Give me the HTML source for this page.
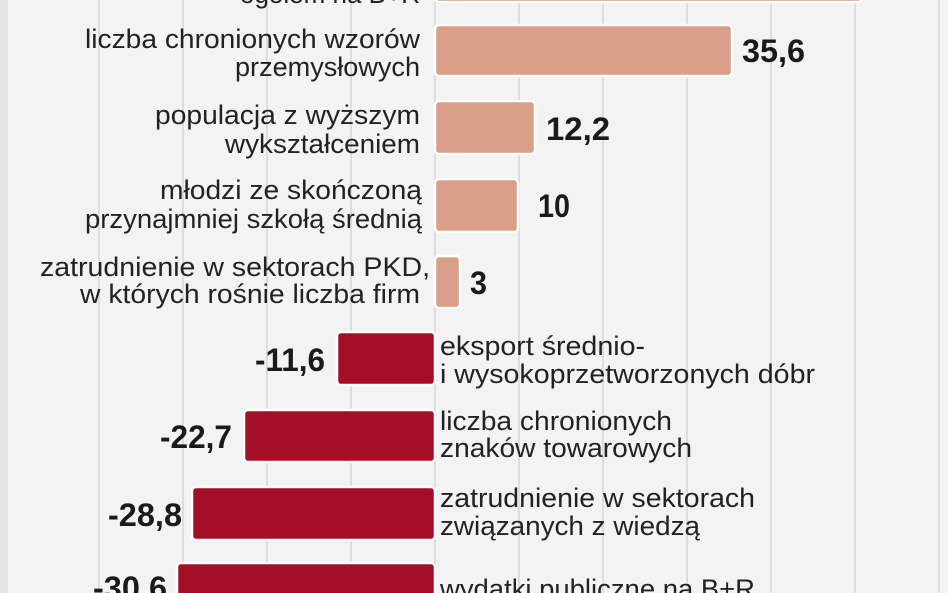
<!DOCTYPE html>
<html><head><meta charset="utf-8"><style>
html,body{margin:0;padding:0;background:#f3f3f3}
svg{display:block}
.l{font-family:"Liberation Sans",sans-serif;font-size:27px;fill:#222}
.v{font-family:"Liberation Sans",sans-serif;font-size:32px;font-weight:bold;fill:#1a1a1a}
</style></head><body>
<svg width="948" height="593" viewBox="0 0 948 593" xmlns="http://www.w3.org/2000/svg">
<rect width="948" height="593" fill="#f3f3f3"/>
<rect x="0" y="0" width="8" height="593" fill="#e6e6e6"/>
<g stroke="#d6d6d6" stroke-width="1.5">
<line x1="99" y1="0" x2="99" y2="593"/><line x1="183" y1="0" x2="183" y2="593"/>
<line x1="267" y1="0" x2="267" y2="593"/><line x1="351" y1="0" x2="351" y2="593"/>
<line x1="435" y1="0" x2="435" y2="593"/><line x1="519" y1="0" x2="519" y2="593"/>
<line x1="603" y1="0" x2="603" y2="593"/><line x1="687" y1="0" x2="687" y2="593"/>
<line x1="771" y1="0" x2="771" y2="593"/><line x1="855" y1="0" x2="855" y2="593"/>
<line x1="939" y1="0" x2="939" y2="593"/>
</g>
<g fill="#d99f88" stroke="#fff" stroke-width="2.5">
<rect x="435" y="-20" width="427" height="22" rx="4"/>
<rect x="435" y="25" width="297" height="51" rx="4"/>
<rect x="435" y="101" width="100" height="53" rx="4"/>
<rect x="435" y="179" width="83" height="53" rx="4"/>
<rect x="435" y="256" width="25" height="52" rx="4"/>
</g>
<g fill="#a50e27" stroke="#fff" stroke-width="2.5">
<rect x="337" y="332" width="98" height="53" rx="4"/>
<rect x="244" y="410" width="191" height="52" rx="4"/>
<rect x="192" y="487" width="243" height="53" rx="4"/>
<rect x="177" y="563" width="258" height="50" rx="4"/>
</g>
<g class="l" text-anchor="end">
<text x="420" y="3" textLength="180" lengthAdjust="spacingAndGlyphs">ogółem na B+R</text>
<text x="420" y="48" textLength="335" lengthAdjust="spacingAndGlyphs">liczba chronionych wzorów</text>
<text x="420" y="76" textLength="185" lengthAdjust="spacingAndGlyphs">przemysłowych</text>
<text x="420" y="124" textLength="265" lengthAdjust="spacingAndGlyphs">populacja z wyższym</text>
<text x="420" y="153" textLength="195" lengthAdjust="spacingAndGlyphs">wykształceniem</text>
<text x="422" y="199" textLength="262" lengthAdjust="spacingAndGlyphs">młodzi ze skończoną</text>
<text x="422" y="228" textLength="337" lengthAdjust="spacingAndGlyphs">przynajmniej szkołą średnią</text>
<text x="430" y="276" textLength="390" lengthAdjust="spacingAndGlyphs">zatrudnienie w sektorach PKD,</text>
<text x="420" y="303" textLength="340" lengthAdjust="spacingAndGlyphs">w których rośnie liczba firm</text>
</g>
<g class="l">
<text x="440" y="355" textLength="205" lengthAdjust="spacingAndGlyphs">eksport średnio-</text>
<text x="440" y="383" textLength="375" lengthAdjust="spacingAndGlyphs">i wysokoprzetworzonych dóbr</text>
<text x="440" y="430" textLength="232" lengthAdjust="spacingAndGlyphs">liczba chronionych</text>
<text x="440" y="457" textLength="252" lengthAdjust="spacingAndGlyphs">znaków towarowych</text>
<text x="440" y="507" textLength="315" lengthAdjust="spacingAndGlyphs">zatrudnienie w sektorach</text>
<text x="440" y="535" textLength="260" lengthAdjust="spacingAndGlyphs">związanych z wiedzą</text>
<text x="440" y="598" textLength="315" lengthAdjust="spacingAndGlyphs">wydatki publiczne na B+R</text>
</g>
<g class="v">
<text x="742" y="62" textLength="63" lengthAdjust="spacingAndGlyphs">35,6</text>
<text x="546" y="140" textLength="64" lengthAdjust="spacingAndGlyphs">12,2</text>
<text x="538" y="217" textLength="32" lengthAdjust="spacingAndGlyphs">10</text>
<text x="470" y="294" textLength="17" lengthAdjust="spacingAndGlyphs">3</text>
<text x="255" y="371" textLength="70" lengthAdjust="spacingAndGlyphs">-11,6</text>
<text x="160" y="448" textLength="72" lengthAdjust="spacingAndGlyphs">-22,7</text>
<text x="108" y="526" textLength="74" lengthAdjust="spacingAndGlyphs">-28,8</text>
<text x="93" y="599" textLength="74" lengthAdjust="spacingAndGlyphs">-30,6</text>
</g>
</svg>
</body></html>
